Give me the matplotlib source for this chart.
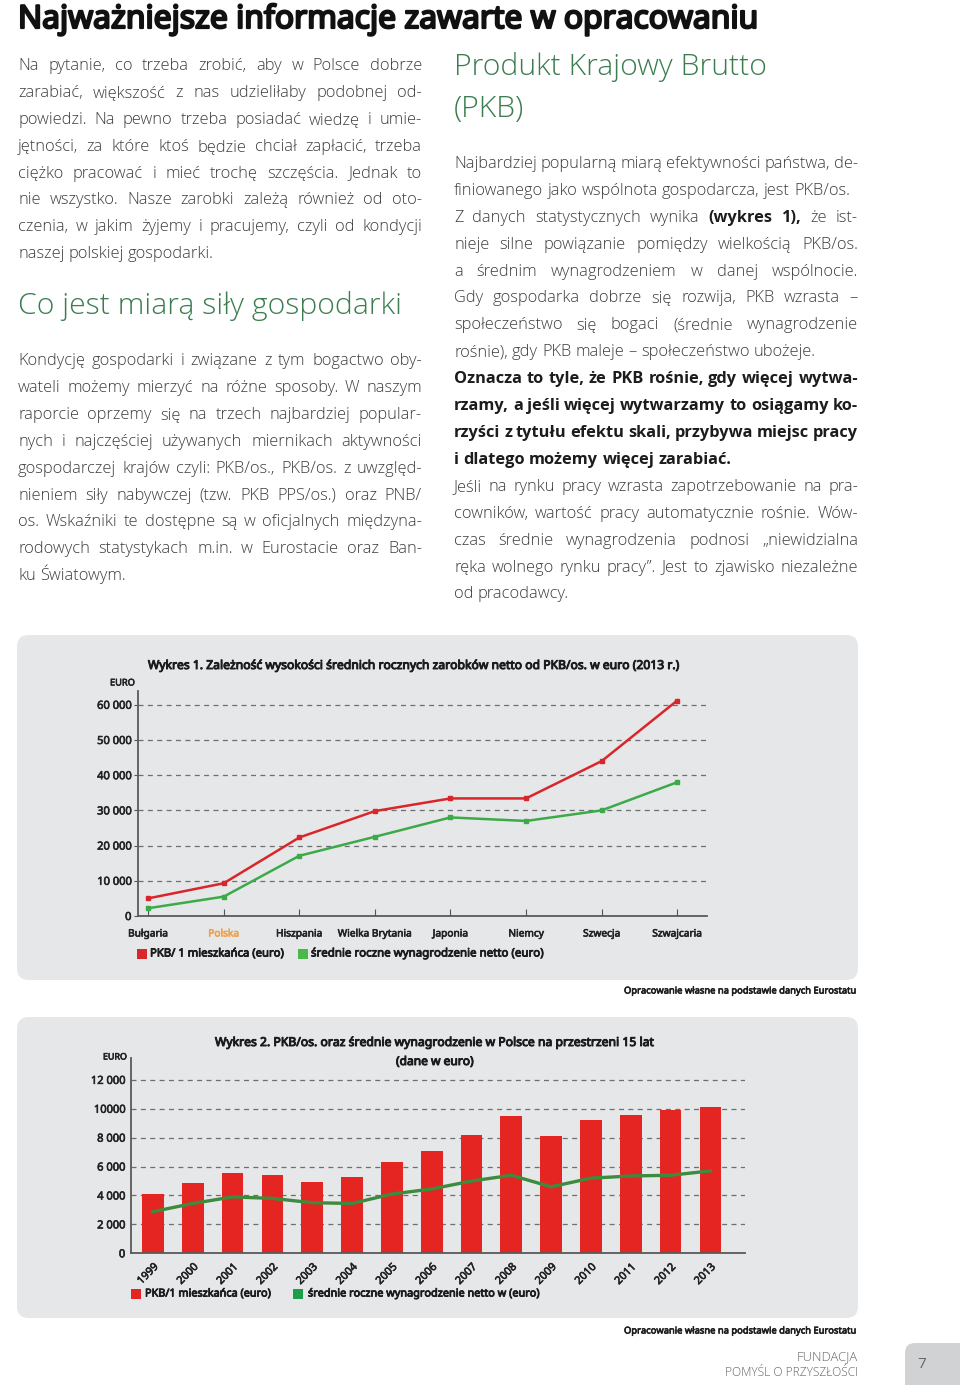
import matplotlib.pyplot as plt
import matplotlib.patheffects as pe
from matplotlib.patches import FancyBboxPatch, Rectangle

# ---- data ----
countries = ['Bułgaria', 'Polska', 'Hiszpania', 'Wielka Brytania', 'Japonia',
             'Niemcy', 'Szwecja', 'Szwajcaria']
gdp_pc = [5000, 9300, 22300, 29800, 33400, 33400, 44000, 61200]
net_wage = [2200, 5500, 17100, 22500, 28000, 27000, 30000, 38000]

years = [str(y) for y in range(1999, 2014)]
gdp_pl = [4100, 4850, 5550, 5450, 4950, 5250, 6350, 7050,
          8200, 9500, 8100, 9200, 9550, 9900, 10100]
wage_pl = [2880, 3450, 3900, 3800, 3500, 3450, 4100, 4450,
           5000, 5400, 4600, 5200, 5350, 5400, 5700]

ticks1 = [0, 10000, 20000, 30000, 40000, 50000, 60000]
ticklab1 = ['0', '10 000', '20 000', '30 000', '40 000', '50 000', '60 000']
ticks2 = [0, 2000, 4000, 6000, 8000, 10000, 12000]
ticklab2 = ['0', '2 000', '4 000', '6 000', '8 000', '10000', '12 000']

# ---- text ----
left_p1 = [
    "Na pytanie, co trzeba zrobić, aby w Polsce dobrze",
    "zarabiać, większość z nas udzieliłaby podobnej od-",
    "powiedzi. Na pewno trzeba posiadać wiedzę i umie-",
    "jętności, za które ktoś będzie chciał zapłacić, trzeba",
    "ciężko pracować i mieć trochę szczęścia. Jednak to",
    "nie wszystko. Nasze zarobki zależą również od oto-",
    "czenia, w jakim żyjemy i pracujemy, czyli od kondycji",
    "naszej polskiej gospodarki.",
]
left_p2 = [
    "Kondycję gospodarki i związane z tym bogactwo oby-",
    "wateli możemy mierzyć na różne sposoby. W naszym",
    "raporcie oprzemy się na trzech najbardziej popular-",
    "nych i najczęściej używanych miernikach aktywności",
    "gospodarczej krajów czyli: PKB/os., PKB/os. z uwzględ-",
    "nieniem siły nabywczej (tzw. PKB PPS/os.) oraz PNB/",
    "os. Wskaźniki te dostępne są w oficjalnych międzyna-",
    "rodowych statystykach m.in. w Eurostacie oraz Ban-",
    "ku Światowym.",
]
right_ps = [
    ["Najbardziej popularną miarą efektywności państwa, de-",
     "finiowanego jako wspólnota gospodarcza, jest PKB/os."],
    ["Z danych statystycznych wynika *(wykres *1), że ist-",
     "nieje silne powiązanie pomiędzy wielkością PKB/os.",
     "a średnim wynagrodzeniem w danej wspólnocie.",
     "Gdy gospodarka dobrze się rozwija, PKB wzrasta –",
     "społeczeństwo się bogaci (średnie wynagrodzenie",
     "rośnie), gdy PKB maleje – społeczeństwo ubożeje."],
    ["*Oznacza *to *tyle, *że *PKB *rośnie, *gdy *więcej *wytwa-",
     "*rzamy, *a *jeśli *więcej *wytwarzamy *to *osiągamy *ko-",
     "*rzyści *z *tytułu *efektu *skali, *przybywa *miejsc *pracy",
     "*i *dlatego *możemy *więcej *zarabiać."],
    ["Jeśli na rynku pracy wzrasta zapotrzebowanie na pra-",
     "cowników, wartość pracy automatycznie rośnie. Wów-",
     "czas średnie wynagrodzenia podnosi „niewidzialna",
     "ręka wolnego rynku pracy”. Jest to zjawisko niezależne",
     "od pracodawcy."],
]

BODY = ['Open Sans', 'DejaVu Sans']
COND = ['Noto Sans Condensed', 'Noto Sans', 'DejaVu Sans']
TXT = '#3c3c3c'
DARK = '#1c1c1c'
GREEN_HEAD = '#3b7d4f'
CK = dict(family=COND, fontstretch='condensed', fontweight='bold')


def fb(color, lw=0.6):
    # thicken the condensed face a little (fake bold)
    return [pe.withStroke(linewidth=lw, foreground=color)]


W, H = 960, 1385
fig = plt.figure(figsize=(W / 100, H / 100), dpi=100)
fig.patch.set_facecolor('white')
renderer = fig.canvas.get_renderer()

# background axes in pixel units (y down)
bg = fig.add_axes([0, 0, 1, 1], zorder=0)
bg.set_xlim(0, W)
bg.set_ylim(H, 0)
bg.axis('off')


def width(t):
    return t.get_window_extent(renderer).width


def fit(x0, x1, y, s, size=10, **kw):
    t = bg.text(x0, y, s, fontsize=size, **kw)
    t.set_fontsize(size * (x1 - x0) / width(t))
    return t


def cfit(x0, x1, y, s, size=10, color=DARK, lw=0.7, **kw):
    return fit(x0, x1, y, s, size=size, color=color, path_effects=fb(color, lw), **CK, **kw)


def word_widths(words, size, weight):
    out = []
    for w in words:
        t = bg.text(0, 0, w, fontsize=size, family=BODY, fontweight=weight)
        out.append(width(t))
        t.remove()
    return out


def space(size, weight):
    a = word_widths(['a a', 'aa'], size, weight)
    return a[0] - a[1]


def natural_ratio(lines, size, colw):
    r = 0
    for line in lines:
        words = line.split(' ')
        bold = all(w.startswith('*') for w in words)
        wt = 'bold' if bold else 'light'
        ws = word_widths([w.lstrip('*') for w in words], size, wt)
        r = max(r, (sum(ws) + space(size, wt) * 0.8 * (len(ws) - 1)) / colw)
    return r


def draw_par(lines, x0, x1, y0, step, size, bsize):
    for i, line in enumerate(lines):
        y = y0 + i * step
        justify = i < len(lines) - 1
        items, ws = [], []
        for w in line.split(' '):
            b = w.startswith('*')
            sz = bsize if b else size
            t = bg.text(x0, y, w.lstrip('*'), fontsize=sz, family=BODY,
                        fontweight='bold' if b else 'light',
                        color=DARK if b else TXT, va='baseline')
            items.append(t)
            ws.append(width(t))
        if justify and len(items) > 1:
            gap = (x1 - x0 - sum(ws)) / (len(items) - 1)
        else:
            gap = space(size, 'light')
        x = x0
        for t, w in zip(items, ws):
            t.set_x(x)
            x += w + gap


# choose body size so that the tightest justified line just fits
normal_lines = left_p1[:-1] + left_p2[:-1] + [l for p in right_ps for l in p[:-1]
                                              if not l.startswith('*')]
s0 = 14
body_size = min(14, s0 / natural_ratio(normal_lines, s0, 404))
bold_lines = right_ps[2][:-1]
bold_size = min(body_size, s0 / natural_ratio(bold_lines, s0, 404))

# ---- page title ----
fit(18, 758, 28, "Najważniejsze informacje zawarte w opracowaniu", size=22,
    family=COND, fontstretch='semi-condensed', fontweight='heavy', color='#111111',
    va='baseline', path_effects=fb('#111111', 1.6))

# ---- left column ----
draw_par(left_p1, 18, 422, 70, 26.9, body_size, bold_size)
fit(18, 402, 314, "Co jest miarą siły gospodarki", size=24, family=BODY,
    fontweight='light', color=GREEN_HEAD, va='baseline')
draw_par(left_p2, 18, 422, 365, 26.9, body_size, bold_size)

# ---- right column ----
t = fit(454, 768, 75, "Produkt Krajowy Brutto", size=24, family=BODY,
        fontweight='light', color=GREEN_HEAD, va='baseline')
bg.text(454, 117, "(PKB)", fontsize=t.get_fontsize(), family=BODY,
        fontweight='light', color=GREEN_HEAD, va='baseline')
y = 168
for p in right_ps:
    draw_par(p, 454, 858, y, 26.9, body_size, bold_size)
    y += 26.9 * len(p)

# ---- panels ----
for (x, y0, w, h) in [(17, 635, 841, 345), (17, 1017, 841, 301)]:
    bg.add_patch(FancyBboxPatch((x, y0), w, h,
                                boxstyle='round,pad=0,rounding_size=12',
                                fc='#e6e7e8', ec='none'))

# ---- chart 1 ----
RED1, GRN1 = '#d9262a', '#3daa4a'
ax1 = fig.add_axes([138.3 / W, 1 - 916 / H, (706.7 - 138.3) / W, (916 - 690.7) / H],
                   zorder=2)
ax1.set_facecolor('none')
x1 = list(range(len(countries)))
ax1.plot(x1, gdp_pc, color=RED1, lw=1.8, marker='s', ms=3.5, zorder=3)
ax1.plot(x1, net_wage, color=GRN1, lw=1.8, marker='s', ms=3.5, zorder=3)
ax1.set_xlim(-0.13, 7.39)
ax1.set_ylim(0, 64000)
ax1.set_yticks(ticks1)
ax1.set_yticklabels(ticklab1, fontsize=8, color='#222222', **CK)
ax1.set_xticks(x1)
ax1.set_xticklabels(countries, fontsize=7.3, color='#222222', **CK)
ax1.get_xticklabels()[1].set_color('#f0a04b')
for lab in ax1.get_xticklabels() + ax1.get_yticklabels():
    lab.set_path_effects(fb(lab.get_color(), 0.45))
ax1.tick_params(axis='x', direction='in', length=5, pad=9, color='#555555')
ax1.tick_params(axis='y', direction='out', length=3, pad=2, color='#555555')
ax1.yaxis.grid(True, ls=(0, (4, 3.5)), color='#6d6e71', lw=0.9)
ax1.set_axisbelow(True)
for s in ['top', 'right']:
    ax1.spines[s].set_visible(False)
for s in ['left', 'bottom']:
    ax1.spines[s].set_color('#5a5a5a')
    ax1.spines[s].set_linewidth(1.3)

cfit(148, 681, 669, "Wykres 1. Zależność wysokości średnich rocznych zarobków netto od PKB/os. w euro (2013 r.)",
     size=11, va='baseline')
cfit(110, 135, 683, "EURO", size=7, color='#222222', lw=0.45, va='center')
bg.add_patch(Rectangle((137, 949), 10, 10, fc=RED1, ec='none'))
cfit(150, 284, 954, "PKB/ 1 mieszkańca (euro)", size=9, lw=0.6, va='center')
bg.add_patch(Rectangle((298, 949), 10, 10, fc='#4cb848', ec='none'))
cfit(311, 543, 954, "średnie roczne wynagrodzenie netto (euro)", size=9, lw=0.6, va='center')
cfit(624, 857, 991, "Opracowanie własne na podstawie danych Eurostatu", size=8,
     lw=0.45, va='center')

# ---- chart 2 ----
RED2, GRN2 = '#e42521', '#3d8b3d'
ax2 = fig.add_axes([130.7 / W, 1 - 1253.3 / H, (745 - 130.7) / W, (1253.3 - 1058.2) / H],
                   zorder=2)
ax2.set_facecolor('none')
x2 = list(range(len(years)))
ax2.bar(x2, gdp_pl, width=0.545, color=RED2, zorder=2)
ax2.plot(x2, wage_pl, color=GRN2, lw=2.4, zorder=3, solid_joinstyle='round')
ax2.set_xlim(-0.56, 14.87)
ax2.set_ylim(0, 13500)
ax2.set_yticks(ticks2)
ax2.set_yticklabels(ticklab2, fontsize=8, color='#222222', **CK)
ax2.set_xticks(x2)
ax2.set_xticklabels(years, fontsize=7.8, color='#222222',
                    rotation=45, ha='right', va='top', rotation_mode='anchor', **CK)
for lab in ax2.get_xticklabels() + ax2.get_yticklabels():
    lab.set_path_effects(fb('#222222', 0.45))
ax2.tick_params(axis='x', length=0, pad=6)
ax2.tick_params(axis='y', length=0, pad=4)
ax2.yaxis.grid(True, ls=(0, (4, 3.5)), color='#6d6e71', lw=0.9)
ax2.set_axisbelow(True)
for s in ['top', 'right']:
    ax2.spines[s].set_visible(False)
for s in ['left', 'bottom']:
    ax2.spines[s].set_color('#5a5a5a')
    ax2.spines[s].set_linewidth(1.3)

cfit(215, 655, 1046, "Wykres 2. PKB/os. oraz średnie wynagrodzenie w Polsce na przestrzeni 15 lat",
     size=11, va='baseline')
cfit(396, 474, 1065, "(dane w euro)", size=11, va='baseline')
cfit(103, 127, 1057, "EURO", size=7, color='#222222', lw=0.45, va='center')
bg.add_patch(Rectangle((131, 1289), 10, 10, fc=RED2, ec='none'))
cfit(145, 271, 1294, "PKB/1 mieszkańca (euro)", size=9, lw=0.6, va='center')
bg.add_patch(Rectangle((293, 1289), 10, 10, fc='#1f9e4a', ec='none'))
cfit(308, 539, 1294, "średnie roczne wynagrodzenie netto w (euro)", size=9, lw=0.6, va='center')
cfit(624, 857, 1331, "Opracowanie własne na podstawie danych Eurostatu", size=8,
     lw=0.45, va='center')

# ---- footer ----
fit(797, 858, 1357, "FUNDACJA", size=8, family=BODY, fontweight='light', color='#666666',
    va='center')
fit(725, 858, 1373, "POMYŚL O PRZYSZŁOŚCI", size=8, family=BODY, fontweight='light',
    color='#666666', va='center')
bg.add_patch(FancyBboxPatch((905, 1343), 80, 60, boxstyle='round,pad=0,rounding_size=10',
                            fc='#d1d2d4', ec='none'))
bg.text(922, 1365, "7", fontsize=11, family=BODY, color='#666666', ha='center', va='center')

fig.savefig('out.png', dpi=100)
